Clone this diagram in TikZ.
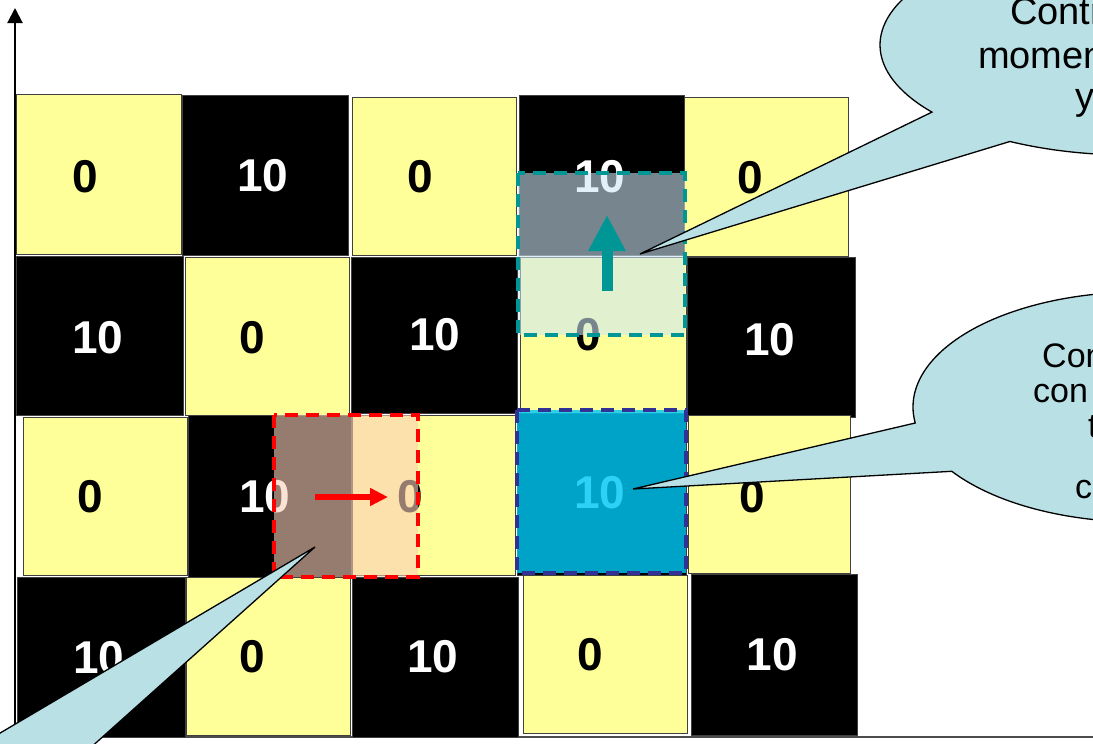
\documentclass[tikz,border=0pt]{standalone}
\usepackage{fontspec}
\setmainfont{Liberation Sans}
\usetikzlibrary{arrows.meta,calc}
\definecolor{cellyel}{RGB}{255,255,153}
\definecolor{callblue}{RGB}{185,224,229}
\definecolor{tealc}{RGB}{0,150,150}
\definecolor{tealfill}{RGB}{205,230,245}
\definecolor{peachfill}{RGB}{250,205,185}
\definecolor{bluefill}{RGB}{0,200,245}
\definecolor{bluedash}{RGB}{50,50,150}
\begin{document}
\begin{tikzpicture}[x=1pt,y=-1pt,
  yelcell/.style={fill=cellyel,draw=black!75,line width=1pt},
  blkcell/.style={fill=black,draw=black!75,line width=1pt},
  numw/.style={text=white,font=\fontsize{46}{50}\selectfont\bfseries,inner sep=0pt},
  numb/.style={text=black,font=\fontsize{46}{50}\selectfont\bfseries,inner sep=0pt},
  callout/.style={fill=callblue,draw=black,line width=1.3pt,line join=miter},
  calltxt/.style={font=\fontsize{38}{42}\selectfont,inner sep=0pt,anchor=base west},
  calltxtb/.style={font=\fontsize{34}{37}\selectfont,inner sep=0pt,anchor=base west},
  dashbox/.style={line width=3.5pt,dash pattern=on 13pt off 8pt}]
\useasboundingbox (0,0) rectangle (1093,744);
\clip (0,0) rectangle (1093,744);
% axes
\coordinate (ax0) at (15,737);
\coordinate (axy) at (15,8);
\coordinate (axx) at (1100,737);
\draw[line width=2pt,-{Triangle[width=15pt,length=15pt]}] (ax0) -- (axy);
\draw[line width=2pt,black!70] (ax0) -- (axx);
% row 1
\path[yelcell] (16,94) rectangle (181,254);
\path[blkcell] (182,95) rectangle (348,255);
\path[yelcell] (352,97) rectangle (516,255);
\path[blkcell] (519,95) rectangle (684,255);
\path[yelcell] (684,97) rectangle (848,256);
% row 2
\path[blkcell] (16,256) rectangle (183,415);
\path[yelcell] (185,257) rectangle (349,415);
\path[blkcell] (351,257) rectangle (517,413);
\path[yelcell] (520,257) rectangle (686,413);
\path[blkcell] (687,257) rectangle (855,417);
% row 3
\path[yelcell] (23,417) rectangle (187,575);
\path[blkcell] (188,415) rectangle (351,577);
\path[yelcell] (352,415) rectangle (515,575);
\path[blkcell] (517,413) rectangle (686,575);
\path[yelcell] (688,415) rectangle (850,573);
% row 4
\path[blkcell] (17,577) rectangle (185,737);
\path[yelcell] (186,577) rectangle (350,735);
\path[blkcell] (352,577) rectangle (518,737);
\path[yelcell] (523,575) rectangle (687,733);
\path[blkcell] (691,574) rectangle (857,735);
% numbers
\node[numb] (n11) at (85,177) {0};
\node[numw] (n12) at (263,176) {10};
\node[numb] (n13) at (420,177) {0};
\node[numw] (n14) at (600,177) {10};
\node[numb] (n15) at (750,178) {0};
\node[numw] (n21) at (98,338) {10};
\node[numb] (n22) at (252,338) {0};
\node[numw] (n23) at (435,335) {10};
\node[numb] (n24) at (588,335) {0};
\node[numw] (n25) at (770,340) {10};
\node[numb] (n31) at (90,497) {0};
\node[numw] (n32) at (265,497) {10};
\node[numb] (n33) at (410,497) {0};
\node[numw] (n34) at (600,493) {10};
\node[numb] (n35) at (752,497) {0};
\node[numw] (n41) at (99,658) {10};
\node[numb] (n42) at (252,657) {0};
\node[numw] (n43) at (433,657) {10};
\node[numb] (n44) at (590,655) {0};
\node[numw] (n45) at (772,655) {10};
% overlays
\path[fill=tealfill,fill opacity=0.58] (518,173) rectangle (685,335);
\draw[dashbox,tealc] (518,173) rectangle (685,335);
\path[fill=peachfill,fill opacity=0.6] (274,415) rectangle (418,577);
\draw[dashbox,red] (274,415) rectangle (418,577);
\path[fill=bluefill,fill opacity=0.82] (517,410) rectangle (686,573);
\draw[dashbox,bluedash] (517,410) rectangle (686,573);
% arrows
\coordinate (ta0) at (607,291);
\coordinate (ta1) at (607,215);
\draw[tealc,line width=11pt,-{Triangle[width=35pt,length=36pt]}] (ta0) -- (ta1);
\coordinate (ra0) at (315,497);
\coordinate (ra1) at (388,497);
\draw[red,line width=6pt,-{Triangle[width=17pt,length=18pt]}] (ra0) -- (ra1);
% callouts
\coordinate (e1) at (1130,45);
\coordinate (tip1) at (640,254);
\filldraw[callout] ($(e1)+(142.4:250 and 110)$) -- (tip1) -- ($(e1)+(118.7:250 and 110)$)
  arc[start angle=118.7,end angle=-217.6,x radius=250,y radius=110] -- cycle;
\coordinate (e2) at (1140,407);
\coordinate (tip2) at (633,489);
\filldraw[callout] ($(e2)+(172:227 and 115)$) -- (tip2) -- ($(e2)+(146:227 and 115)$)
  arc[start angle=146,end angle=-188,x radius=227,y radius=115] -- cycle;
\coordinate (tip3) at (315,547);
\coordinate (b3a) at (-10,739);
\coordinate (b3b) at (-10,775);
\coordinate (b3c) at (60,775);
\fill[callblue] (tip3) -- (b3a) -- (b3b) -- (b3c) -- cycle;
\draw[black,line width=1.3pt,line join=miter] (b3a) -- (tip3) -- (b3c);
% callout texts (cut by the picture edge, as in the reference)
\node[calltxt] (t1a) at (1010,24) {Contr};
\node[calltxt] (t1b) at (978,68) {momen};
\node[calltxt] (t1c) at (1075,109) {y};
\node[calltxtb] (t2a) at (1042,367) {Con};
\node[calltxtb] (t2b) at (1033,402) {con};
\node[calltxtb] (t2c) at (1088,437) {t};
\node[calltxtb] (t2d) at (1075,498) {c};
\end{tikzpicture}
\end{document}
